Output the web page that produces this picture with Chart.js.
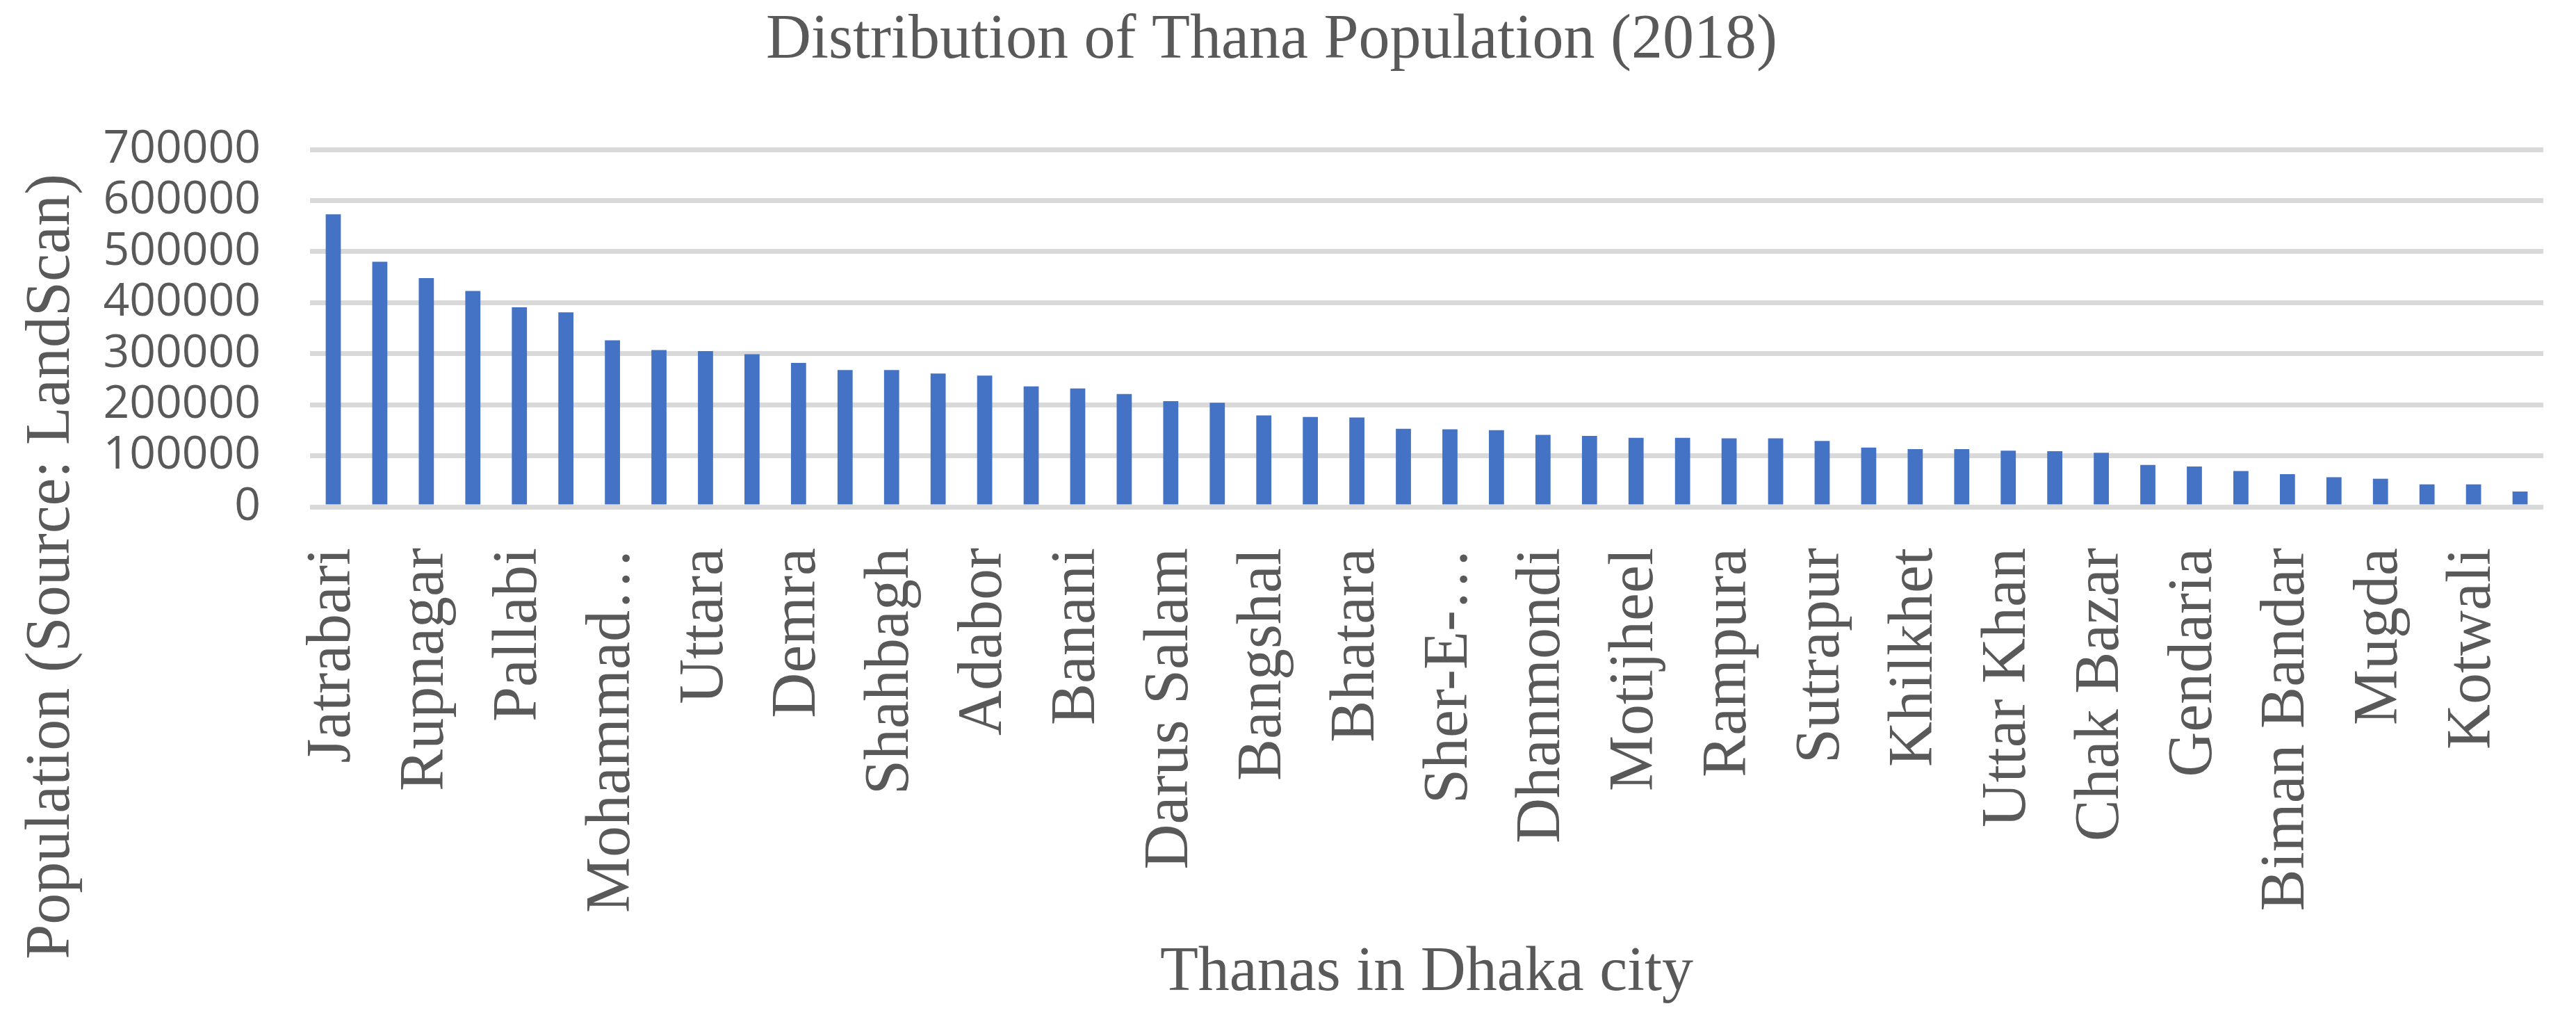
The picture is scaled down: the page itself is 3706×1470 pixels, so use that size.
<!DOCTYPE html>
<html>
<head>
<meta charset="utf-8">
<script src="https://cdn.jsdelivr.net/npm/chart.js@4.4.1/dist/chart.umd.min.js"></script>
<style>
  html, body { margin: 0; padding: 0; background: #ffffff; overflow: hidden; }
  #wrap { width: 3706px; height: 1470px; }
</style>
</head>
<body>
<div id="wrap"><canvas id="c" width="3706" height="1470"></canvas></div>
<script>
// ---- data ----
const chartTitle = 'Distribution of Thana Population (2018)';
const xAxisTitle = 'Thanas in Dhaka city';
const yAxisTitle = 'Population (Source: LandScan)';

// Category labels (every other label is hidden in the original chart)
const categories = [
  'Jatrabari', '', 'Rupnagar', '', 'Pallabi', '', 'Mohammad…', '',
  'Uttara', '', 'Demra', '', 'Shahbagh', '', 'Adabor', '',
  'Banani', '', 'Darus Salam', '', 'Bangshal', '', 'Bhatara', '',
  'Sher-E-…', '', 'Dhanmondi', '', 'Motijheel', '', 'Rampura', '',
  'Sutrapur', '', 'Khilkhet', '', 'Uttar Khan', '', 'Chak Bazar', '',
  'Gendaria', '', 'Biman Bandar', '', 'Mugda', '', 'Kotwali', ''
];

const population = [
  573000, 480000, 448000, 423000, 391000, 381000, 326000, 307000,
  305000, 299000, 282000, 268000, 268000, 261000, 257000, 236000,
  232000, 221000, 207000, 204000, 179000, 176000, 175000, 153000,
  152000, 150000, 141000, 139000, 135000, 135000, 134000, 134000,
  129000, 116000, 113000, 113000, 110000, 109000, 106000, 82000,
  79000, 70000, 64000, 58000, 55000, 44000, 44000, 30000
];

const yTicks = [0, 100000, 200000, 300000, 400000, 500000, 600000, 700000];

// ---- styles ----
const TEXT = '#595959';
const SERIF = "'Liberation Serif', 'Times New Roman', serif";
const SANS = "'Open Sans', 'Noto Sans', sans-serif";

const yTitlePlugin = {
  id: 'yTitlePlugin',
  afterDraw(chart) {
    const ctx = chart.ctx;
    ctx.save();
    ctx.font = '90px ' + SERIF;
    ctx.fillStyle = TEXT;
    ctx.textAlign = 'center';
    ctx.textBaseline = 'alphabetic';
    ctx.translate(99, 815);
    ctx.rotate(-Math.PI / 2);
    ctx.fillText(yAxisTitle, 0, 0);
    ctx.restore();
  }
};

new Chart(document.getElementById('c'), {
  type: 'bar',
  data: {
    labels: categories,
    datasets: [{
      label: 'Population',
      data: population,
      backgroundColor: '#4472C4',
      borderWidth: 0,
      categoryPercentage: 1.0,
      barPercentage: 0.325
    }]
  },
  options: {
    responsive: false,
    animation: false,
    devicePixelRatio: 1,
    layout: { padding: { left: 0, right: 47, top: 0, bottom: 0 } },
    plugins: {
      legend: { display: false },
      tooltip: { enabled: false },
      title: {
        display: true,
        text: chartTitle,
        color: TEXT,
        font: { family: SERIF, size: 90, weight: 'normal', lineHeight: 1.2 },
        padding: { top: 5, bottom: 102 }
      }
    },
    scales: {
      x: {
        type: 'category',
        grid: { display: false, drawTicks: false },
        border: { display: false },
        ticks: {
          autoSkip: false,
          maxRotation: 90,
          minRotation: 90,
          padding: 59,
          color: TEXT,
          font: { family: SERIF, size: 90 }
        },
        title: {
          display: true,
          text: xAxisTitle,
          color: TEXT,
          font: { family: SERIF, size: 90, lineHeight: 1.2 },
          padding: { top: 0, bottom: 16 }
        },
        afterFit(scale) {
          scale.height = 1470 - 729;
          scale.paddingLeft = 0;
          scale.paddingRight = 0;
        }
      },
      y: {
        min: 0,
        max: 700000,
        afterBuildTicks(scale) { scale.ticks = yTicks.map(v => ({ value: v })); },
        grid: { color: '#D9D9D9', lineWidth: 7, drawTicks: false },
        border: { display: false },
        ticks: {
          autoSkip: false,
          padding: 71,
          color: TEXT,
          font: { family: SANS, size: 66 },
          callback: (v) => String(v)
        },
        afterFit(scale) { scale.width = 446; }
      }
    }
  },
  plugins: [yTitlePlugin]
});
</script>
</body>
</html>
